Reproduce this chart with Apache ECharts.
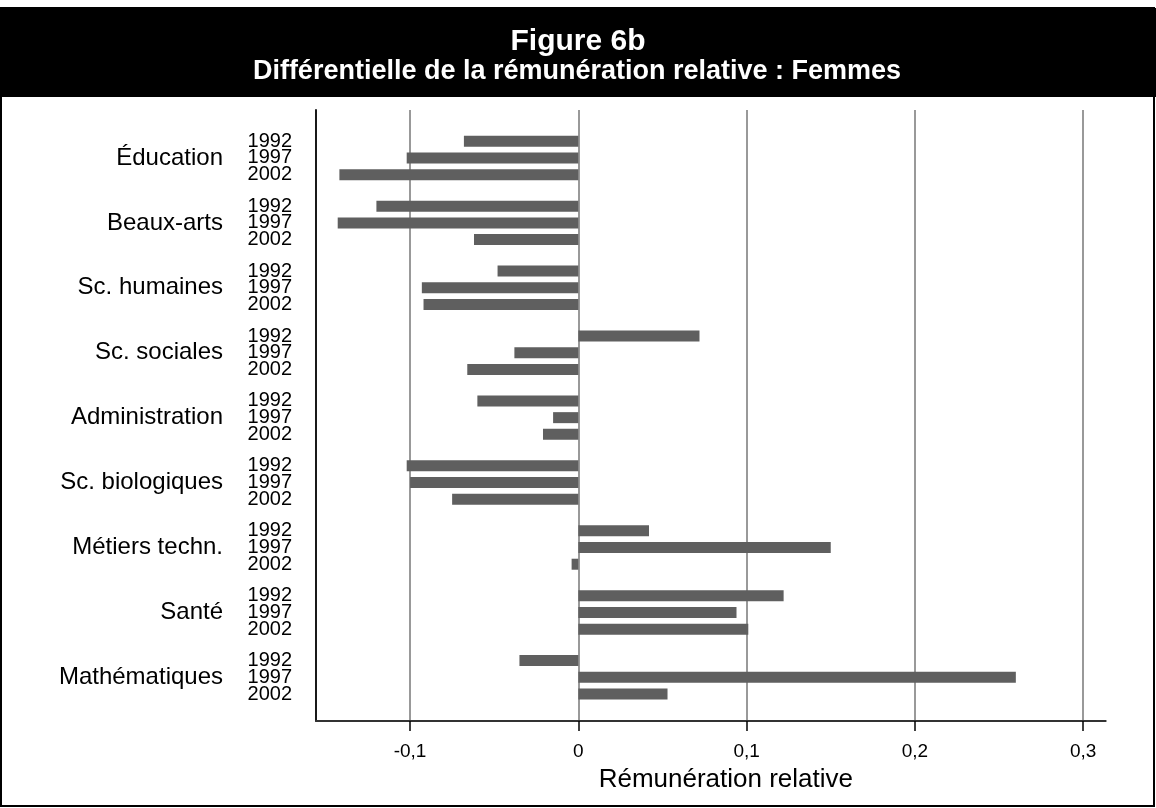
<!DOCTYPE html>
<html><head><meta charset="utf-8">
<script src="https://cdn.jsdelivr.net/npm/echarts@6/dist/echarts.min.js"></script>
<style>html,body{margin:0;padding:0;background:#fff}#c{width:1156px;height:808px}</style>
</head><body><div id="c"></div>
<script>
const categories = ['Éducation','Beaux-arts','Sc. humaines','Sc. sociales','Administration','Sc. biologiques','Métiers techn.','Santé','Mathématiques'];
const years = ['1992','1997','2002'];
const v1992 = [-0.068, -0.120, -0.048, 0.072, -0.060, -0.102, 0.042, 0.122, -0.035];
const v1997 = [-0.102, -0.143, -0.093, -0.038, -0.015, -0.100, 0.150, 0.094, 0.260];
const v2002 = [-0.142, -0.062, -0.092, -0.066, -0.021, -0.075, -0.004, 0.101, 0.053];
const xTicks = [-0.1, 0, 0.1, 0.2, 0.3];
const titleText = 'Figure 6b';
const subtitleText = 'Différentielle de la rémunération relative : Femmes';
const axisTitle = 'Rémunération relative';

const FONT = '"Liberation Sans", Arial, Helvetica, sans-serif';
const XMIN = -0.1559, XMAX = 0.3134;
const fmt = v => {
  const hit = xTicks.find(t => Math.abs(t - v) < 1e-6);
  return hit === undefined ? '' : '{t|' + String(Math.round(hit * 10) / 10).replace('.', ',') + '}';
};

const chart = echarts.init(document.getElementById('c'), null, {renderer: 'canvas'});
const seriesData = [v1992, v1997, v2002];
chart.setOption({
  animation: false,
  backgroundColor: '#fff',
  textStyle: {fontFamily: FONT},
  graphic: [
    {type: 'rect', z: 100, shape: {x: 1, y: 8, width: 1153, height: 798}, style: {fill: 'none', stroke: '#000', lineWidth: 2}},
    {type: 'rect', z: 99, shape: {x: 0, y: 8, width: 1156, height: 89}, style: {fill: '#000'}},
    {type: 'text', z: 101, x: 578, y: 42, style: {text: titleText, fill: '#fff', font: 'bold 30px ' + FONT, align: 'center', verticalAlign: 'middle'}},
    {type: 'text', z: 101, x: 577, y: 71.5, style: {text: subtitleText, fill: '#fff', font: 'bold 27px ' + FONT, align: 'center', verticalAlign: 'middle'}}
  ],
  grid: [
    {left: 316, right: 50.3, top: 110, bottom: 87},
    {left: 316, right: 50.3, top: 125.5, bottom: 98.2}
  ],
  xAxis: [
    {
      gridIndex: 0, type: 'value', min: XMIN, max: XMAX,
      axisLine: {show: true, onZero: false, lineStyle: {color: '#333', width: 2}},
      axisTick: {show: true, length: 10, inside: false, customValues: xTicks, lineStyle: {color: '#000', width: 1.5}},
      axisLabel: {show: true, formatter: fmt, fontSize: 19, color: '#000', margin: 20, fontFamily: FONT,
        showMinLabel: false, showMaxLabel: false,
        rich: {t: {fontSize: 19, color: '#000', fontFamily: FONT, lineHeight: 22}}},
      splitLine: {show: true, lineStyle: {color: '#999', width: 2}},
      name: axisTitle, nameLocation: 'middle', nameGap: 39,
      nameTextStyle: {fontSize: 26, color: '#000', padding: [0, 0, 0, 30], fontFamily: FONT}
    },
    {gridIndex: 1, type: 'value', min: XMIN, max: XMAX, show: false}
  ],
  yAxis: [
    {
      gridIndex: 0, type: 'value', min: 0, max: 1,
      axisLine: {show: true, onZero: false, lineStyle: {color: '#000', width: 1.8}},
      axisTick: {show: false}, axisLabel: {show: false}, splitLine: {show: false}
    },
    {
      gridIndex: 1, type: 'category', data: categories, inverse: true, position: 'left',
      axisLine: {show: false}, axisTick: {show: false}, splitLine: {show: false},
      axisLabel: {margin: 93, fontSize: 24, color: '#000', fontFamily: FONT, padding: [5, 0, 0, 0]}
    },
    {
      gridIndex: 1, type: 'category', data: categories, inverse: true, position: 'left',
      axisLine: {show: false}, axisTick: {show: false}, splitLine: {show: false},
      axisLabel: {margin: 24, fontSize: 20, lineHeight: 16.7, color: '#000', fontFamily: FONT,
        formatter: () => years.join('\n')}
    }
  ],
  series: seriesData.map((d, i) => ({
    name: years[i], type: 'bar', xAxisIndex: 1, yAxisIndex: 1,
    data: d, barWidth: 11, barGap: '52%',
    itemStyle: {color: '#5f5f5f'}, silent: true
  }))
});
</script>
</body></html>
